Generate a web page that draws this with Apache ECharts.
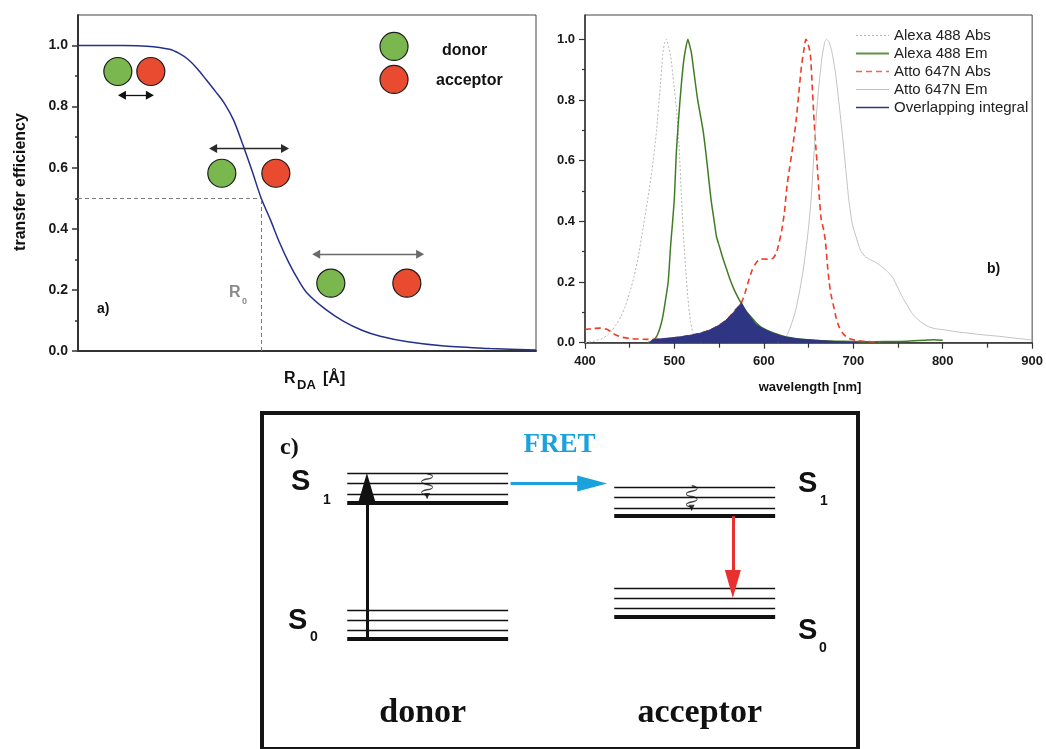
<!DOCTYPE html>
<html><head><meta charset="utf-8">
<script src="https://cdn.jsdelivr.net/npm/echarts@6/dist/echarts.min.js"></script>
<style>html,body{margin:0;padding:0;background:#fff}#c{width:1046px;height:749px}</style>
</head><body><div id="c"></div><script>
// ---------- Panel a: transfer efficiency vs R_DA ----------
const rdaX = [0,10,15,20,22,24,26,28,30,32,34,36,38,40,42,44,46,48,50,54,58,62,66,72,80,90,100];
const efficiency = [1.0,1.0,0.998,0.988,0.975,0.955,0.925,0.888,0.85,0.81,0.755,0.675,0.59,0.5,0.43,0.355,0.29,0.235,0.19,0.137,0.097,0.068,0.048,0.03,0.016,0.008,0.003];
const r0 = 40;
const effTicks = [0,0.2,0.4,0.6,0.8,1.0];
const effMinorTicks = [0.1,0.3,0.5,0.7,0.9];
const donorX = [8.7,31.4,55.2,69];
const donorY = [0.915,0.582,0.222,0.997];
const acceptorX = [15.9,43.2,71.8,69];
const acceptorY = [0.915,0.582,0.222,0.889];
const pairArrowY = [0.837,0.663,0.317];
const pairArrowStart = [9.6,29.5,52.0];
const pairArrowEnd = [15.7,45.2,74.7];

// ---------- Panel b: spectra ----------
const wlTicks = [400,500,600,700,800,900];
const specTicks = [0,0.2,0.4,0.6,0.8,1.0];
const specMinorTicks = [0.1,0.3,0.5,0.7,0.9];
const alexaAbsWl = [400,410,420,425,430,435,440,445,450,455,460,465,470,475,480,484,487,489,491,493,496,499,502,505,508,510,512,515,518,521,525,530];
const alexaAbsVal = [0.0,0.005,0.015,0.025,0.04,0.06,0.085,0.12,0.165,0.22,0.29,0.38,0.47,0.57,0.70,0.84,0.95,0.99,1.0,0.98,0.94,0.86,0.78,0.66,0.47,0.36,0.27,0.15,0.07,0.03,0.01,0.0];
const alexaEmWl = [470,475,480,484,487,490,493,496,498,500,502,504,506,508,510,512,515,517,519,521,523,526,529,532,535,538,541,544,547,550,554,558,562,566,570,575,580,585,590,595,600,610,620,630,640,650,660,680,700,720,740,760,780,790,800];
const alexaEmVal = [0.0,0.005,0.02,0.05,0.086,0.14,0.2,0.33,0.40,0.48,0.62,0.71,0.79,0.86,0.92,0.96,1.0,0.98,0.955,0.91,0.865,0.8,0.75,0.70,0.63,0.55,0.47,0.41,0.35,0.32,0.28,0.245,0.21,0.18,0.155,0.128,0.105,0.087,0.07,0.056,0.046,0.033,0.023,0.016,0.012,0.01,0.007,0.005,0.004,0.003,0.004,0.005,0.008,0.01,0.008];
const attoAbsWl = [400,405,410,417,422,426,430,434,440,450,460,470,480,490,500,510,520,530,540,547,555,562,568,572,575,579,583,587,591,595,600,605,610,614,617,620,623,626,629,632,636,639,642,645,647,649,652,654,656,658,660,662,664,667,669,671,673,675,678,681,684,688,692,697,703,710,720,730];
const attoAbsVal = [0.044,0.045,0.047,0.048,0.046,0.042,0.034,0.026,0.019,0.014,0.012,0.011,0.011,0.012,0.016,0.02,0.025,0.032,0.042,0.053,0.068,0.087,0.108,0.12,0.132,0.165,0.205,0.24,0.262,0.274,0.276,0.275,0.278,0.295,0.33,0.37,0.43,0.52,0.58,0.64,0.73,0.82,0.91,0.97,1.0,0.99,0.95,0.85,0.74,0.65,0.57,0.48,0.41,0.37,0.33,0.26,0.2,0.16,0.12,0.08,0.053,0.032,0.02,0.012,0.008,0.005,0.003,0.002];
const attoEmWl = [615,620,625,630,635,640,645,650,653,656,659,662,665,668,670,673,676,680,684,688,692,695,699,703,708,713,718,725,732,738,744,750,755,760,765,770,777,784,792,803,815,830,845,860,875,890,900];
const attoEmVal = [0.0,0.008,0.02,0.055,0.1,0.17,0.26,0.38,0.48,0.62,0.76,0.86,0.94,0.99,1.0,0.99,0.96,0.89,0.79,0.68,0.56,0.47,0.39,0.35,0.305,0.285,0.275,0.265,0.25,0.235,0.215,0.18,0.15,0.125,0.1,0.083,0.065,0.053,0.046,0.042,0.036,0.031,0.026,0.022,0.017,0.012,0.009];
const overlapWl = [472,476,485,495,502,510,520,528,535,541,547,552,557,562,566,570,573,575,578,581,585,591,600,610,620,630,640,650,665,680,695,705];
const overlapVal = [0.0,0.011,0.013,0.016,0.018,0.021,0.026,0.031,0.037,0.044,0.053,0.062,0.073,0.087,0.1,0.114,0.125,0.132,0.115,0.1,0.085,0.062,0.045,0.032,0.022,0.016,0.012,0.01,0.007,0.004,0.002,0.0];
const seriesNames = ['Alexa 488 Abs','Alexa 488 Em','Atto 647N Abs','Atto 647N Em','Overlapping integral'];

// ---------- Panel c: Jablonski diagram (abstract energy units) ----------
const donorSpan = [14.3,41.3];
const acceptorSpan = [59.1,86.1];
const donorS0Levels = [32.7,35.2,38.3,41.4];
const donorS1Levels = [73.4,75.9,79.0,82.1];
const acceptorS1Levels = [69.3,71.8,74.9,78.0];
const acceptorS0Levels = [39.3,41.8,44.9,47.9];
const excitation = {x:17.6, from:32.7, to:77.8};
const fret = {y:79.0, from:41.7, to:55.4};
const emission = {x:79.0, from:69.3, to:49.1};
const squiggleX = [27.7,72.1];
const squiggleY = [78.2,74.6];
const squiggleTipY = [75.3,71.8];

const SANS = '"Liberation Sans", Arial, sans-serif';
const SERIF = '"Liberation Serif", "Times New Roman", serif';
const pairs = (xs, ys) => xs.map((x,i) => [x, ys[i]]);

function levelLines(span, levels){
  return levels.map((e,i) => [
    {coord:[span[0], e], lineStyle:{color:'#111', width: i===0 ? 4 : 1.4, type:'solid'}},
    {coord:[span[1], e]}
  ]);
}
const arrowLineColors = ['#111','#2a2a2a','#6a6a6a'];
const pairArrows = pairArrowY.map((y,i) => [
  {coord:[pairArrowStart[i], y], lineStyle:{color:arrowLineColors[i], width:1.3, type:'solid'}, symbol:'triangle', symbolSize:[9,8], itemStyle:{color:'#111'}},
  {coord:[pairArrowEnd[i], y], symbol:'triangle', symbolSize:[9,8], itemStyle:{color:'#111'}}
]);

// legend line icons (solid / dotted / dashed), 33px wide
function dashPath(dash, gap, h){
  let p = 'path://';
  for (let x = 0; x < 33; x += dash + gap) {
    const w = Math.min(dash, 33 - x);
    p += 'M' + x + ',0h' + w + 'v' + h + 'h-' + w + 'z';
  }
  return p;
}
const legendIcons = [dashPath(2,2,1), dashPath(33,0,2), dashPath(6,4,1.6), dashPath(33,0,1), dashPath(33,0,1.6)];

function txt(text, x, y, o){
  o = o || {};
  return {type:'text', x:x, y:y, rotation:o.rot||0, silent:true, z:100,
    style:{text:text, fill:o.color||'#111', font:(o.weight||'bold')+' '+o.size+'px '+(o.family||SANS),
      align:o.align||'left', verticalAlign:o.va||'middle'}};
}

const chart = echarts.init(document.getElementById('c'), null, {renderer:'canvas'});
const axisLabelA = {fontSize:14, fontWeight:'bold', color:'#1a1a1a', fontFamily:SANS, margin:10};
const axisLabelB = {fontSize:13, fontWeight:'bold', color:'#1a1a1a', fontFamily:SANS, margin:10};

chart.setOption({
  animation:false,
  backgroundColor:'#fff',
  grid:[
    {left:78, top:15, width:458, height:336, show:true, borderColor:'#444', borderWidth:1, containLabel:false},
    {left:585, top:15, width:449, height:327.7, show:true, borderColor:'#444', borderWidth:1, containLabel:false},
    {left:262, top:413, width:596, height:340, show:true, borderColor:'#151515', borderWidth:4, containLabel:false}
  ],
  legend:{
    show:true, orient:'vertical', left:856, top:28, padding:0, itemWidth:33, itemHeight:14, itemGap:3,
    selectedMode:false, symbolKeepAspect:true,
    data:seriesNames.map((n,i) => ({name:n, icon:legendIcons[i]})),
    textStyle:{fontSize:15, lineHeight:15, color:'#222', fontFamily:SANS}
  },
  xAxis:[
    {gridIndex:0, type:'value', min:0, max:100, axisLine:{show:true, onZero:false, lineStyle:{color:'#333', width:2}},
      axisTick:{show:false}, axisLabel:{show:false}, splitLine:{show:false}},
    {gridIndex:1, type:'value', min:400, max:900, interval:100,
      axisLine:{show:true, onZero:false, lineStyle:{color:'#333', width:1.5}},
      axisTick:{show:true, length:6, lineStyle:{color:'#333', width:1.2}},
      minorTick:{show:true, splitNumber:2, length:5, lineStyle:{color:'#333', width:1.2}},
      axisLabel:Object.assign({}, axisLabelB, {margin:12, customValues:wlTicks}), splitLine:{show:false}},
    {gridIndex:2, type:'value', min:0, max:100, show:false}
  ],
  yAxis:[
    {gridIndex:0, type:'value', min:0, max:1.1, position:'left',
      axisLine:{show:true, onZero:false, lineStyle:{color:'#333', width:2}},
      axisTick:{show:true, length:6, customValues:effTicks, lineStyle:{color:'#333', width:1.5}},
      axisLabel:Object.assign({}, axisLabelA, {customValues:effTicks, formatter:v => v > 1.05 ? '' : v.toFixed(1)}),
      splitLine:{show:false}},
    {gridIndex:0, type:'value', min:0, max:1.1, position:'left', offset:0,
      axisLine:{show:false}, axisTick:{show:true, length:3, customValues:effMinorTicks, lineStyle:{color:'#333', width:1.5}},
      axisLabel:{show:false}, splitLine:{show:false}},
    {gridIndex:1, type:'value', min:0, max:1.08, position:'left',
      axisLine:{show:true, onZero:false, lineStyle:{color:'#333', width:1.5}},
      axisTick:{show:true, length:6, customValues:specTicks, lineStyle:{color:'#333', width:1.2}},
      axisLabel:Object.assign({}, axisLabelB, {customValues:specTicks, formatter:v => v > 1.05 ? '' : v.toFixed(1)}),
      splitLine:{show:false}},
    {gridIndex:1, type:'value', min:0, max:1.08, position:'left', offset:0,
      axisLine:{show:false}, axisTick:{show:true, length:3, customValues:specMinorTicks, lineStyle:{color:'#333', width:1.2}},
      axisLabel:{show:false}, splitLine:{show:false}},
    {gridIndex:2, type:'value', min:0, max:100, show:false}
  ],
  series:[
    // Panel a
    {type:'line', xAxisIndex:0, yAxisIndex:0, data:pairs(rdaX, efficiency), smooth:0.3, symbol:'none',
      lineStyle:{color:'#24318c', width:1.5}, emphasis:{disabled:true}, z:3,
      markLine:{silent:true, symbol:'none', label:{show:false}, animation:false,
        lineStyle:{color:'#7a7a7a', type:[4,3], width:1},
        data:[[{coord:[0,0.5]},{coord:[r0,0.5]}],[{coord:[r0,0]},{coord:[r0,0.5]}]]}},
    {type:'scatter', xAxisIndex:0, yAxisIndex:0, data:pairs(donorX, donorY), symbolSize:28,
      itemStyle:{color:'#7ab84f', borderColor:'#1b1b1b', borderWidth:1.2, opacity:1}, emphasis:{disabled:true}, z:4,
      markLine:{silent:true, symbol:'none', label:{show:false}, animation:false, data:pairArrows}},
    {type:'scatter', xAxisIndex:0, yAxisIndex:0, data:pairs(acceptorX, acceptorY), symbolSize:28,
      itemStyle:{color:'#e84b30', borderColor:'#1b1b1b', borderWidth:1.2, opacity:1}, emphasis:{disabled:true}, z:4},
    // Panel b
    {name:seriesNames[0], type:'line', xAxisIndex:1, yAxisIndex:2, data:pairs(alexaAbsWl, alexaAbsVal), smooth:0.2, symbol:'none',
      lineStyle:{color:'#b5b5b5', width:1, type:[2,2]}, itemStyle:{color:'#b5b5b5'}, emphasis:{disabled:true}},
    {name:seriesNames[1], type:'line', xAxisIndex:1, yAxisIndex:2, data:pairs(alexaEmWl, alexaEmVal), smooth:0.2, symbol:'none',
      lineStyle:{color:'#3f7d25', width:1.5}, itemStyle:{color:'#5f9442'}, emphasis:{disabled:true}},
    {name:seriesNames[2], type:'line', xAxisIndex:1, yAxisIndex:2, data:pairs(attoAbsWl, attoAbsVal), smooth:0.2, symbol:'none',
      lineStyle:{color:'#f03b25', width:1.6, type:[6,4]}, itemStyle:{color:'#f06650'}, emphasis:{disabled:true}},
    {name:seriesNames[3], type:'line', xAxisIndex:1, yAxisIndex:2, data:pairs(attoEmWl, attoEmVal), smooth:0.2, symbol:'none',
      lineStyle:{color:'#c2c2c2', width:1}, itemStyle:{color:'#c2c2c2'}, emphasis:{disabled:true}},
    {name:seriesNames[4], type:'line', xAxisIndex:1, yAxisIndex:2, data:pairs(overlapWl, overlapVal), smooth:false, symbol:'none',
      lineStyle:{color:'#2e3583', width:0.8}, itemStyle:{color:'#2e3583'}, areaStyle:{color:'#2e3583', opacity:1}, emphasis:{disabled:true}, z:5},
    // Panel c
    {type:'scatter', xAxisIndex:2, yAxisIndex:4, data:pairs(squiggleX, squiggleY),
      symbol:'path://M6,0 C12,1.5 12,4.5 6,6 C0,7.5 0,10.5 6,12 C12,13.5 12,16.5 6,18 C0,19.5 0,22.5 6,24 L6,28',
      symbolSize:[11,25], itemStyle:{color:'rgba(0,0,0,0)', borderColor:'#111', borderWidth:1}, emphasis:{disabled:true}, z:6,
      markLine:{silent:true, symbol:'none', label:{show:false}, animation:false,
        data:[].concat(
          levelLines(donorSpan, donorS0Levels), levelLines(donorSpan, donorS1Levels),
          levelLines(acceptorSpan, acceptorS1Levels), levelLines(acceptorSpan, acceptorS0Levels),
          [[{coord:[excitation.x, excitation.from], lineStyle:{color:'#111', width:3, type:'solid'}},
            {coord:[excitation.x, excitation.to], symbol:'triangle', symbolSize:[17,29], itemStyle:{color:'#111'}}],
           [{coord:[fret.from, fret.y], lineStyle:{color:'#1ba1db', width:3, type:'solid'}},
            {coord:[fret.to, fret.y], symbol:'triangle', symbolSize:[16,30], itemStyle:{color:'#1ba1db'}}],
           [{coord:[emission.x, emission.from], lineStyle:{color:'#e8312f', width:3, type:'solid'}},
            {coord:[emission.x, emission.to], symbol:'triangle', symbolSize:[16,28], itemStyle:{color:'#e8312f'}}]]
        )}},
    {type:'scatter', xAxisIndex:2, yAxisIndex:4, data:pairs(squiggleX, squiggleTipY), symbol:'triangle', symbolRotate:180,
      symbolSize:[6,6], itemStyle:{color:'#111'}, emphasis:{disabled:true}, z:6}
  ],
  graphic:[
    // panel a
    txt('transfer efficiency', 21, 182, {size:16, align:'center', rot:Math.PI/2}),
    txt('a)', 97, 309, {size:14}),
    txt('R', 229, 293, {size:16, color:'#8a8a8a'}),
    txt('0', 242, 302, {size:9, color:'#8a8a8a'}),
    txt('donor', 442, 51, {size:16}),
    txt('acceptor', 436, 81, {size:16}),
    txt('R', 284, 379, {size:16}),
    txt('DA', 297, 385, {size:13}),
    txt('[Å]', 323, 379, {size:16}),
    // panel b
    txt('wavelength [nm]', 810, 387, {size:13, align:'center'}),
    txt('b)', 987, 269, {size:14}),
    // panel c
    txt('c)', 280, 448, {size:24, family:SERIF}),
    txt('FRET', 559.5, 445, {size:27, family:SERIF, align:'center', color:'#1ba1db'}),
    txt('S', 291, 482, {size:29}),
    txt('1', 323, 500, {size:14}),
    txt('S', 288, 621, {size:29}),
    txt('0', 310, 637, {size:14}),
    txt('S', 798, 484, {size:29}),
    txt('1', 820, 501, {size:14}),
    txt('S', 798, 631, {size:29}),
    txt('0', 819, 648, {size:14}),
    txt('donor', 422.7, 713, {size:34, family:SERIF, align:'center'}),
    txt('acceptor', 699.7, 713, {size:34, family:SERIF, align:'center'})
  ]
});
</script></body></html>
